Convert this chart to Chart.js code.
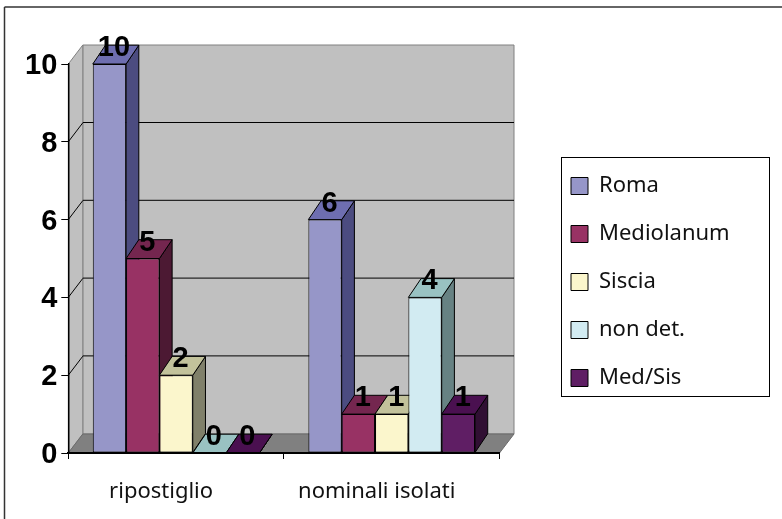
<!DOCTYPE html>
<html><head><meta charset="utf-8">
<style>html,body{margin:0;padding:0;background:#fff}canvas{display:block}</style>
<script src="https://cdn.jsdelivr.net/npm/chart.js@4/dist/chart.umd.min.js"></script>
</head><body><canvas id="c" width="782" height="519"></canvas>
<script>
const categories = ['ripostiglio', 'nominali isolati'];
const seriesNames = ['Roma', 'Mediolanum', 'Siscia', 'non det.', 'Med/Sis'];
const roma = [10, 6];
const mediolanum = [5, 1];
const siscia = [2, 1];
const nonDet = [0, 4];
const medSis = [0, 1];
const seriesValues = [roma, mediolanum, siscia, nonDet, medSis];
const frontColors = ['#9696C8', '#983264', '#FBF6CC', '#D2EBF2', '#5F1E64'];
const topColors = ['#6E6EB0', '#74264F', '#C2C29B', '#99C2C2', '#4A1050'];
const sideColors = ['#4C4C80', '#4C1933', '#80806A', '#678283', '#300F33'];
const yMin = 0, yMax = 10, yStep = 2;

const WALL_DX = 14.5, WALL_DY = 19, BAR_DX = 12.7, BAR_DY = 18.8;

function poly(ctx, pts, fill, stroke, lw) {
  ctx.beginPath();
  pts.forEach((p, i) => i ? ctx.lineTo(p[0], p[1]) : ctx.moveTo(p[0], p[1]));
  ctx.closePath();
  if (fill) { ctx.fillStyle = fill; ctx.fill(); }
  if (stroke) { ctx.strokeStyle = stroke; ctx.lineWidth = lw || 1; ctx.stroke(); }
}
function line(ctx, x1, y1, x2, y2, color, lw) {
  ctx.beginPath(); ctx.moveTo(x1, y1); ctx.lineTo(x2, y2);
  ctx.strokeStyle = color; ctx.lineWidth = lw || 1; ctx.stroke();
}

const scene = {
  id: 'scene',
  beforeLayout(chart) {
    const lg = chart.legend;
    if (lg && !lg._wrapped) {
      const f = lg.fit;
      lg.fit = function () { f.call(this); this.width = 0; };
      lg._wrapped = true;
    }
  },
  beforeDraw(chart) {
    const { ctx, chartArea: a, scales: { y } } = chart;
    const L = a.left, R = a.right, T = y.getPixelForValue(yMax), B = y.getPixelForValue(yMin);
    ctx.save();
    // outer frame: only top and left edges are in view
    line(ctx, 4.5, 7, 782, 7, '#333', 1.5);
    line(ctx, 4.5, 7, 4.5, 519, '#333', 1.5);
    // walls
    poly(ctx, [[L + WALL_DX, T - WALL_DY], [R + WALL_DX, T - WALL_DY], [R + WALL_DX, B - WALL_DY], [L + WALL_DX, B - WALL_DY]], '#C0C0C0', '#808080');
    poly(ctx, [[L, T], [L + WALL_DX, T - WALL_DY], [L + WALL_DX, B - WALL_DY], [L, B]], '#C0C0C0', '#808080');
    poly(ctx, [[L, B], [L + WALL_DX, B - WALL_DY], [R + WALL_DX, B - WALL_DY], [R, B]], '#808080', '#6a6a6a');
    // gridlines
    y.ticks.forEach(t => {
      if (t.value === yMin || t.value === yMax) return;
      const py = y.getPixelForValue(t.value);
      line(ctx, L, py, L + WALL_DX, py - WALL_DY, '#000');
      line(ctx, L + WALL_DX, py - WALL_DY - 0.3, R + WALL_DX, py - WALL_DY - 0.3, '#000');
    });
    // legend frame
    ctx.strokeStyle = '#000'; ctx.lineWidth = 1;
    ctx.strokeRect(561.5, 157.5, 208, 239);
    ctx.restore();
    const lg = chart.legend;
    lg.left = 545; lg.top = 149; lg.right = 782; lg.bottom = 519;
    lg.width = 237; lg.height = 370;
  },
  beforeDatasetsDraw(chart) {
    const { ctx } = chart;
    seriesValues.forEach((vals, d) => {
      chart.getDatasetMeta(d).data.forEach(el => {
        const w = el.width / 2, x0 = el.x - w, x1 = el.x + w, yt = el.y, yb = el.base;
        ctx.save();
        ctx.lineJoin = 'round';
        poly(ctx, [[x1, yt], [x1 + BAR_DX, yt - BAR_DY], [x1 + BAR_DX, yb - BAR_DY], [x1, yb]], sideColors[d], '#000');
        poly(ctx, [[x0, yt], [x0 + BAR_DX, yt - BAR_DY], [x1 + BAR_DX, yt - BAR_DY], [x1, yt]], topColors[d], '#000');
        ctx.restore();
        el.draw(ctx);
      });
    });
    return false;
  },
  afterDraw(chart) {
    const { ctx, chartArea: a, scales: { y } } = chart;
    ctx.save();
    line(ctx, a.left, y.getPixelForValue(yMin), a.right, y.getPixelForValue(yMin), '#000', 2);
    ctx.fillStyle = '#000';
    ctx.font = 'bold 29px "Liberation Sans"';
    ctx.textAlign = 'center'; ctx.textBaseline = 'alphabetic';
    seriesValues.forEach((vals, d) => {
      chart.getDatasetMeta(d).data.forEach((el, i) => {
        ctx.fillText(String(vals[i]), el.x + 4.5, el.y - 8);
      });
    });
    ctx.restore();
  }
};

new Chart(document.getElementById('c'), {
  type: 'bar',
  data: {
    labels: categories,
    datasets: seriesNames.map((n, d) => ({
      label: n,
      data: seriesValues[d],
      backgroundColor: frontColors[d],
      borderColor: '#000',
      borderWidth: 1,
      borderSkipped: false,
      categoryPercentage: 0.773,
      barPercentage: 1
    }))
  },
  options: {
    responsive: false,
    animation: false,
    layout: { padding: { left: 0, right: 282.5, top: 64, bottom: 0 } },
    plugins: {
      tooltip: { enabled: false },
      legend: {
        position: 'right',
        align: 'start',
        onClick: null,
        labels: {
          boxWidth: 17, boxHeight: 17, padding: 26,
          color: '#111',
          font: { family: '"Noto Sans"', size: 22 }
        }
      }
    },
    scales: {
      x: {
        afterFit(s) { s.height = 66; },
        grid: { offset: true, drawOnChartArea: false, color: '#000', tickLength: 6, tickColor: '#000' },
        border: { color: '#000', width: 2 },
        ticks: { color: '#111', padding: 20, labelOffset: -15, maxRotation: 0, font: { family: '"Noto Sans"', size: 22 } }
      },
      y: {
        min: yMin, max: yMax,
        afterFit(s) { s.width = 68.3; },
        grid: { drawOnChartArea: false, color: '#000', tickLength: 7, tickColor: '#000' },
        border: { color: '#000', width: 1.5 },
        ticks: { stepSize: yStep, color: '#000', padding: 4, labelOffset: 2, font: { family: '"Liberation Sans"', weight: 'bold', size: 29 } }
      }
    }
  },
  plugins: [scene]
});
</script></body></html>
